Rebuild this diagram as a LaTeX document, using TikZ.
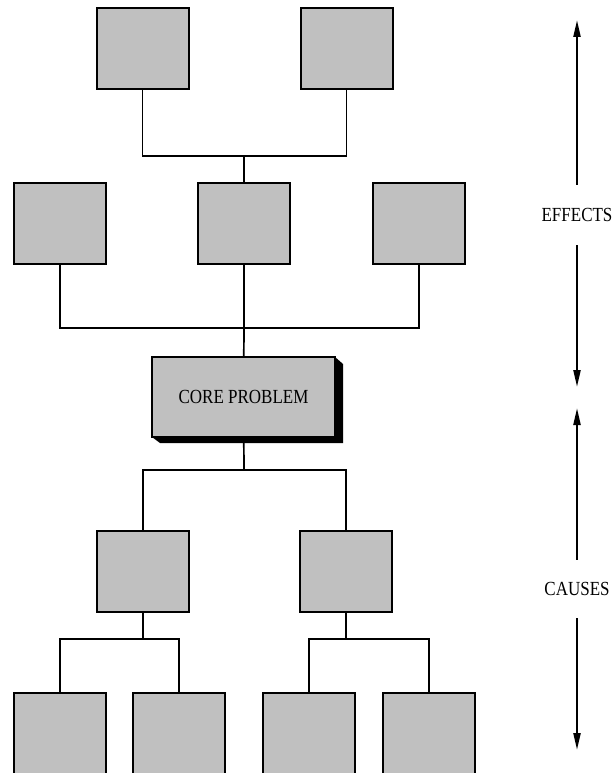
\documentclass[tikz,border=0pt]{standalone}
\usepackage{fontspec}
\usepackage{graphicx}
\setmainfont{Liberation Serif}
\usetikzlibrary{arrows.meta}
\newcommand{\tallword}[1]{\scalebox{0.85}[1]{\fontsize{20}{20}\selectfont #1}}
\tikzset{
  box/.style={draw=black, line width=2pt, fill=boxgray, minimum width=92pt, minimum height=81pt, inner sep=0pt},
  conn/.style={draw=black, line width=1.7pt},
  longarrow/.style={draw=black, line width=2.2pt, -{Triangle[length=17pt,width=7pt]}},
  sidelabel/.style={inner sep=0pt, minimum height=60pt}
}
\definecolor{boxgray}{HTML}{C0C0C0}
\begin{document}
\begin{tikzpicture}[x=1pt,y=-1pt]
\useasboundingbox (0,0) rectangle (614,773);
% boxes
\node[box] (t1) at (142.5,48.5) {};
\node[box] (t2) at (346.5,48.5) {};
\node[box] (m1) at (60,223.5) {};
\node[box] (m2) at (244,223.5) {};
\node[box] (m3) at (419,223.5) {};
\node[box] (c1) at (143,571) {};
\node[box] (c2) at (346,571) {};
\node[box, minimum height=90pt] (b1) at (60,738) {};
\node[box, minimum height=90pt] (b2) at (179,738) {};
\node[box, minimum height=90pt] (b3) at (309,738) {};
\node[box, minimum height=90pt] (b4) at (429,738) {};
% junctions
\coordinate (j1) at (244,156);
\coordinate (j2) at (244,328);
\coordinate (j3) at (244,470);
\coordinate (j4) at (143,639);
\coordinate (j5) at (346,639);
% core problem position (drawn later over connectors)
\coordinate (corec) at (243.5,397);
% connectors
\draw[conn] (t1.south) |- (j1) -| (t2.south);
\draw[conn] (j1) -- (m2.north);
\draw[conn] (m1.south) |- (j2) -| (m3.south);
\draw[conn] (m2.south) -- (j2) -- (corec);
\draw[conn] (corec) -- (j3);
\draw[conn] (c1.north) |- (j3) -| (c2.north);
\draw[conn] (c1.south) -- (j4);
\draw[conn] (b1.north) |- (j4) -| (b2.north);
\draw[conn] (c2.south) -- (j5);
\draw[conn] (b3.north) |- (j5) -| (b4.north);
% core problem with 3D shadow
\fill[black] (335,357) -- (343,364) -- (343,443) -- (160,443) -- (152,437) -- (335,437) -- cycle;
\node[box, minimum width=183pt, minimum height=80pt] (core) at (corec) {\tallword{CORE PROBLEM}};
% side labels
\node[sidelabel] (effects) at (577,215) {\tallword{EFFECTS}};
\node[sidelabel, minimum height=58pt] (causes) at (577,589) {\tallword{CAUSES}};
\coordinate (etop) at (577,20);
\coordinate (ebot) at (577,387);
\coordinate (ctop) at (577,408);
\coordinate (cbot) at (577,750);
\draw[longarrow] (effects.north) -- (etop);
\draw[longarrow] (effects.south) -- (ebot);
\draw[longarrow] (causes.north) -- (ctop);
\draw[longarrow] (causes.south) -- (cbot);
\end{tikzpicture}
\end{document}
